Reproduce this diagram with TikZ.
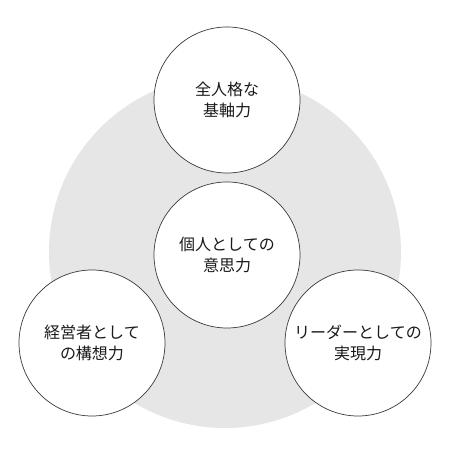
\documentclass[tikz,border=0pt]{standalone}
\usepackage{fontspec}
\usepackage{xcolor}
\usepackage{tikz}
\usetikzlibrary{positioning,calc}
\newfontfamily\cjk{Noto Sans CJK JP}
\definecolor{ring}{HTML}{E6E6E6}
\definecolor{edge}{HTML}{3A3A3A}
\definecolor{ink}{HTML}{1A1A1A}
\tikzset{
  basedisc/.style={
    circle, fill=ring, draw=none,
    minimum size=352pt, inner sep=0pt
  },
  powerdisc/.style={
    circle, draw=edge, fill=white, line width=0.7pt,
    minimum size=146pt, inner sep=0pt,
    font=\cjk\fontsize{16}{21}\selectfont, text=ink, align=center
  },
}

\begin{document}
\begin{tikzpicture}[x=1pt,y=1pt]
  \useasboundingbox (0,0) rectangle (450,450);
  \node[basedisc] (base) at (225,198) {};
  \node[powerdisc] (core) at (227,195) {個人としての\\意思力};
  \node[powerdisc] (top) at (227,350) {全人格な\\基軸力};
  \node[powerdisc] (mgmt) at (92,107) {経営者として\\の構想力};
  \node[powerdisc] (lead) at (358,107) {リーダーとしての\\実現力};
\end{tikzpicture}
\end{document}
